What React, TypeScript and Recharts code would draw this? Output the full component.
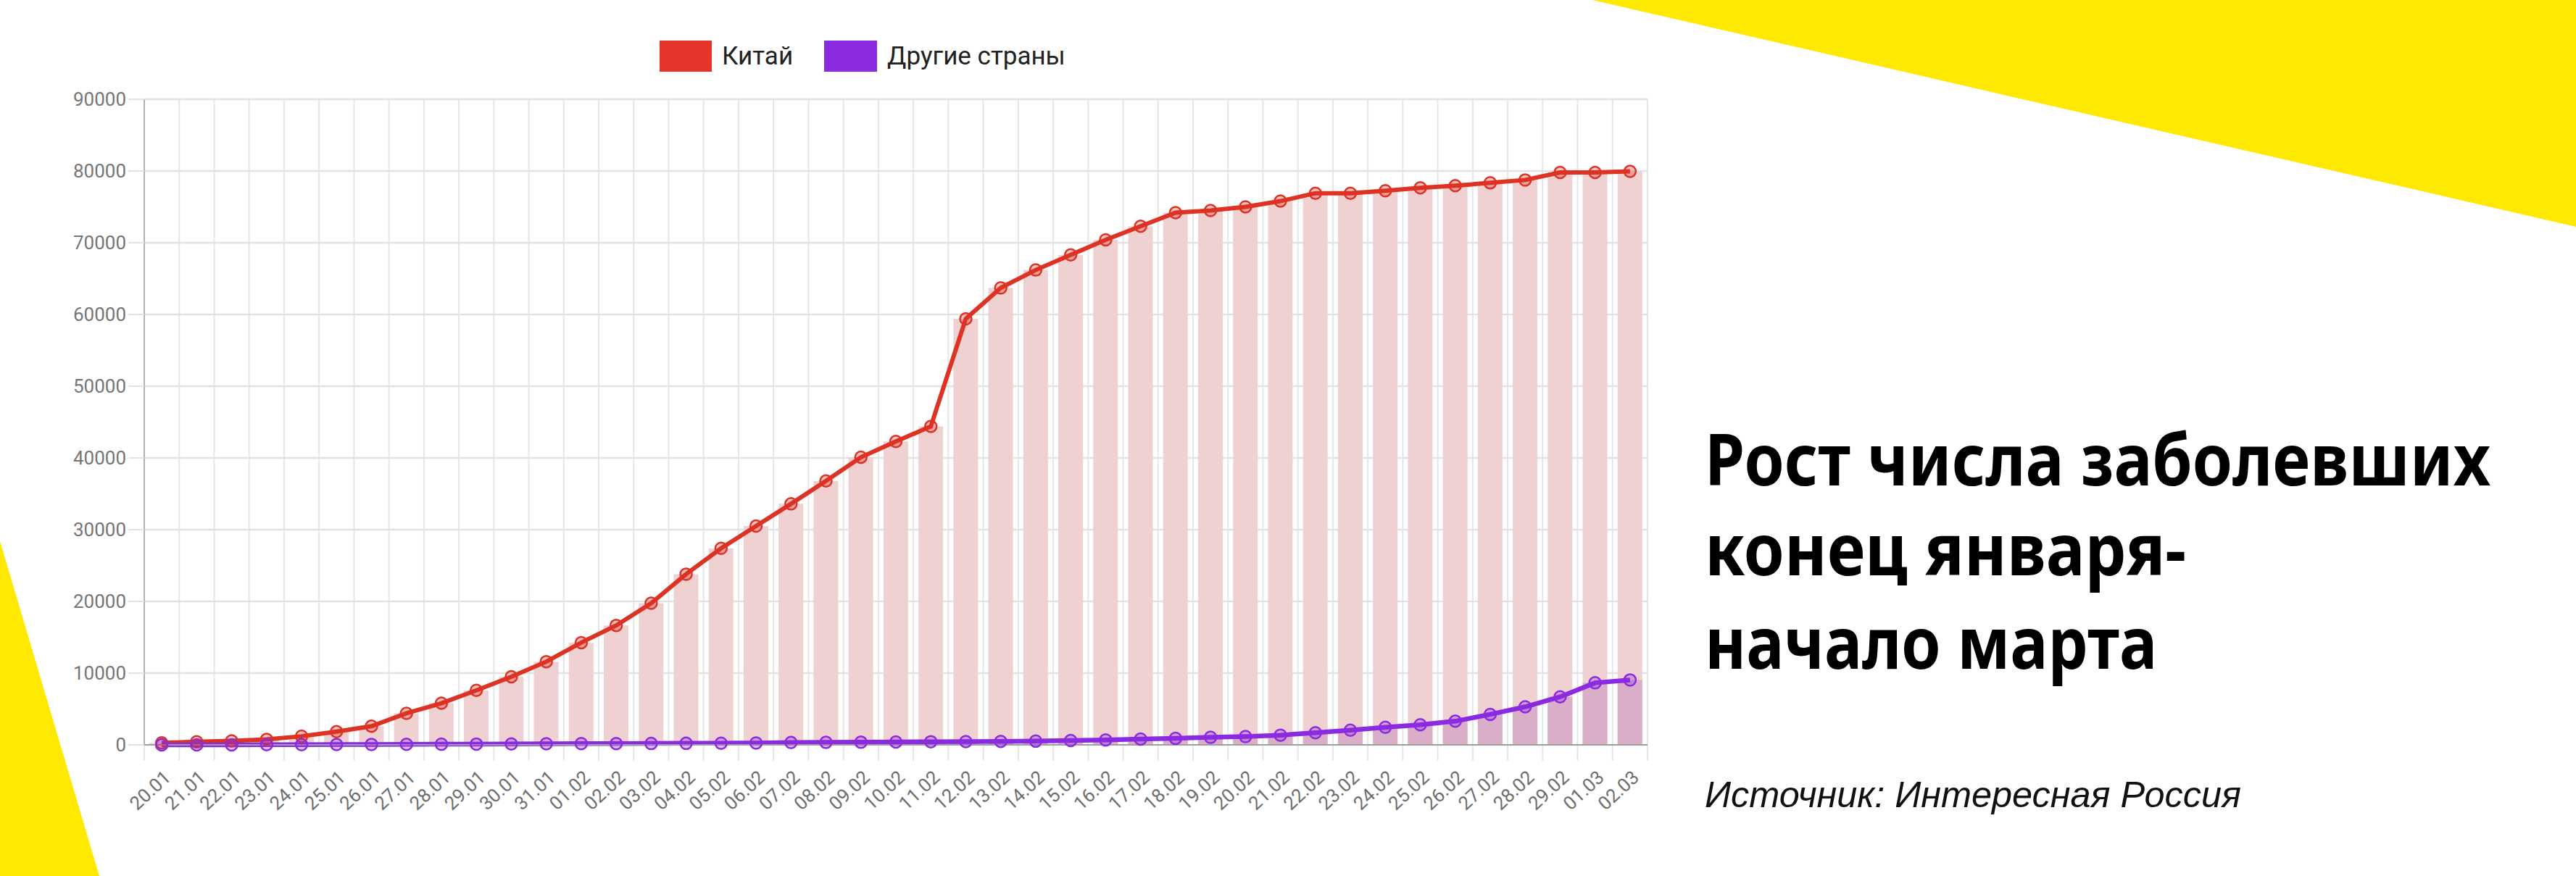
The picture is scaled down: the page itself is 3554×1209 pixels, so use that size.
import React from 'react';
import { ComposedChart, Bar, Line, XAxis, YAxis, CartesianGrid, Legend } from 'recharts';

const dates = [
  '20.01', '21.01', '22.01', '23.01', '24.01', '25.01', '26.01', '27.01', '28.01', '29.01', '30.01', '31.01',
  '01.02', '02.02', '03.02', '04.02', '05.02', '06.02', '07.02', '08.02', '09.02', '10.02', '11.02', '12.02',
  '13.02', '14.02', '15.02', '16.02', '17.02', '18.02', '19.02', '20.02', '21.02', '22.02', '23.02', '24.02',
  '25.02', '26.02', '27.02', '28.02', '29.02', '01.03', '02.03',
];

const chinaCases = [
  280, 420, 560, 750, 1200, 1850, 2600, 4400, 5800, 7600, 9500, 11600,
  14250, 16650, 19750, 23800, 27400, 30500, 33600, 36800, 40100, 42300, 44400, 59400,
  63700, 66200, 68300, 70400, 72300, 74200, 74500, 75000, 75800, 76900, 76900, 77250,
  77650, 77950, 78350, 78750, 79800, 79800, 79950,
];

const otherCases = [
  5, 8, 10, 20, 30, 45, 60, 70, 90, 110, 130, 155,
  175, 185, 190, 215, 230, 265, 320, 345, 370, 400, 440, 450,
  480, 520, 600, 680, 800, 900, 1050, 1150, 1350, 1700, 2050, 2450,
  2800, 3300, 4250, 5300, 6700, 8650, 9050,
];

const yTicks = [0, 10000, 20000, 30000, 40000, 50000, 60000, 70000, 80000, 90000];

const seriesNames = { china: 'Китай', other: 'Другие страны' };

const titleLines = ['Рост числа заболевших', 'конец января-', 'начало марта'];
const sourceText = 'Источник: Интересная Россия';

const data = dates.map((d, i) => ({ date: d, china: chinaCases[i], other: otherCases[i] }));

const RED = '#DD3224';
const RED_LEGEND = '#E5352A';
const PURPLE = '#8A2BE2';
const YELLOW = '#FFE900';

const CHART_W = 2300;
const CHART_H = 1209;
const MARGIN = { top: 40, right: 27, left: 0, bottom: 0 };
const LEGEND_H = 97;
const Y_AXIS_W = 199;
const X_AXIS_H = 181;
const PLOT_H = CHART_H - MARGIN.top - LEGEND_H - MARGIN.bottom - X_AXIS_H;

const FONT = 'Roboto, "Noto Sans", sans-serif';

const boundaryGenerator = (arg: any) => {
  const off = arg.offset;
  const n = dates.length;
  const step = off.width / n;
  const pts: number[] = [];
  for (let i = 0; i <= n; i++) pts.push(off.left + i * step);
  return pts;
};

const SlantTick = (props: any) => {
  const { x, y, payload } = props;
  const ax = x + 14;
  const ay = y + 47;
  return (
    <text
      x={ax}
      y={ay}
      transform={`rotate(-43, ${ax}, ${ay})`}
      textAnchor="end"
      fontSize={26}
      fontFamily={FONT}
      fill="#6e6e6e"
    >
      {payload.value}
    </text>
  );
};

const renderLegend = () => (
  <div style={{ height: LEGEND_H, boxSizing: 'border-box', paddingTop: 16, width: CHART_W }}>
    <div
      style={{
        display: 'flex',
        alignItems: 'center',
        height: 43,
        paddingLeft: 910,
        fontFamily: FONT,
        fontSize: 35,
        color: '#222',
        lineHeight: '43px',
      }}
    >
      <span style={{ display: 'inline-block', width: 72, height: 43, background: RED_LEGEND }} />
      <span style={{ marginLeft: 14 }}>{seriesNames.china}</span>
      <span style={{ display: 'inline-block', width: 73, height: 43, background: PURPLE, marginLeft: 43 }} />
      <span style={{ marginLeft: 14 }}>{seriesNames.other}</span>
    </div>
  </div>
);

export default function App() {
  return (
    <div style={{ position: 'absolute', left: 0, top: 0, width: 3554, height: 1209, background: '#fff', overflow: 'hidden' }}>
      <svg width={3554} height={1209} style={{ position: 'absolute', left: 0, top: 0 }}>
        <polygon points="2197,0 3554,0 3554,313" fill={YELLOW} />
        <polygon points="0,747 137,1209 0,1209" fill={YELLOW} />
        <g fontFamily='"Noto Sans", Roboto, sans-serif' fontWeight={700} fontSize={98} fill="#000">
          <text x={2352} y={670} textLength={1084} lengthAdjust="spacingAndGlyphs">{titleLines[0]}</text>
          <text x={2352} y={794} textLength={664} lengthAdjust="spacingAndGlyphs">{titleLines[1]}</text>
          <text x={2352} y={923} textLength={624} lengthAdjust="spacingAndGlyphs">{titleLines[2]}</text>
        </g>
        <text
          x={2352}
          y={1114}
          fontFamily='"Liberation Sans", Arial, sans-serif'
          fontStyle="italic"
          fontSize={50}
          fill="#111"
          textLength={740}
          lengthAdjust="spacingAndGlyphs"
        >
          {sourceText}
        </text>
      </svg>
      <div style={{ position: 'absolute', left: 0, top: 0 }}>
        <ComposedChart width={CHART_W} height={CHART_H} data={data} margin={MARGIN} barGap={-34}>
          <CartesianGrid
            horizontal={false}
            vertical
            stroke="#e6e6e6"
            strokeWidth={2}
            verticalCoordinatesGenerator={boundaryGenerator}
            height={PLOT_H + 22}
          />
          <CartesianGrid vertical={false} horizontal stroke="#e2e2e2" strokeWidth={2.5} />
          <XAxis
            dataKey="date"
            interval={0}
            height={X_AXIS_H}
            tickLine={false}
            tickSize={0}
            tickMargin={0}
            axisLine={{ stroke: '#a0a0a0', strokeWidth: 2 }}
            tick={<SlantTick />}
          />
          <YAxis
            width={Y_AXIS_W}
            domain={[0, 90000]}
            ticks={yTicks}
            interval={0}
            tickSize={22}
            tickMargin={3}
            tickLine={{ stroke: '#e2e2e2', strokeWidth: 2 }}
            axisLine={{ stroke: '#b0b0b0', strokeWidth: 2 }}
            tick={{ fontSize: 26, fill: '#757575', fontFamily: FONT }}
          />
          <Legend verticalAlign="top" content={renderLegend} height={LEGEND_H} wrapperStyle={{ left: 0, top: MARGIN.top, width: CHART_W }} />
          <Bar dataKey="china" name={seriesNames.china} fill="#EFD1D1" barSize={34} isAnimationActive={false} />
          <Bar dataKey="other" name={seriesNames.other} fill="#DAAEC8" barSize={34} isAnimationActive={false} />
          <Line
            type="linear"
            dataKey="china"
            name={seriesNames.china}
            stroke={RED}
            strokeWidth={6}
            dot={{ r: 8, fill: RED, fillOpacity: 0.3, stroke: RED, strokeWidth: 2.5 }}
            isAnimationActive={false}
          />
          <Line
            type="linear"
            dataKey="other"
            name={seriesNames.other}
            stroke={PURPLE}
            strokeWidth={6.5}
            dot={{ r: 8, fill: PURPLE, fillOpacity: 0.3, stroke: PURPLE, strokeWidth: 2.5 }}
            isAnimationActive={false}
          />
        </ComposedChart>
      </div>
    </div>
  );
}
